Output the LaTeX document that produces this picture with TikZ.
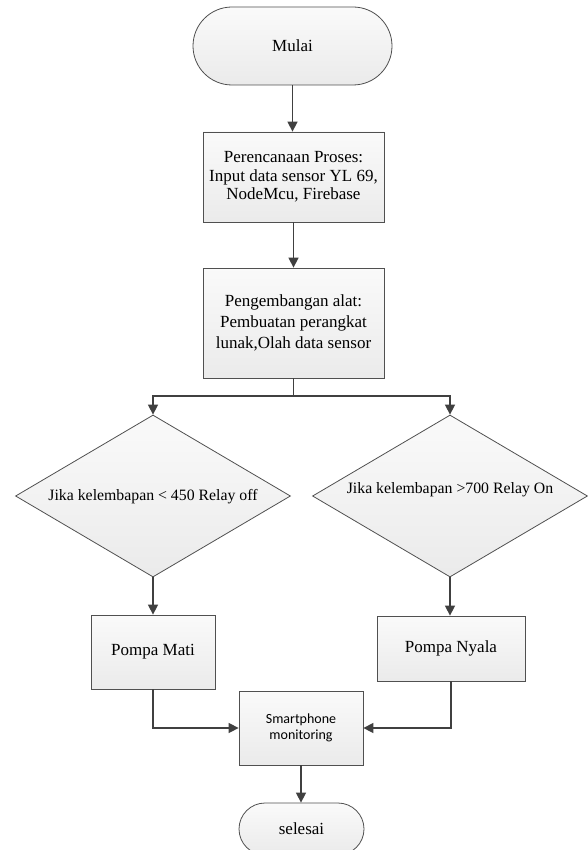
\documentclass[tikz,border=0pt]{standalone}
\usepackage{fontspec}
\setmainfont{Liberation Serif}
\newfontfamily\calibrifont{Carlito}
\usetikzlibrary{shapes.geometric,arrows.meta}
\definecolor{lineC}{RGB}{64,64,64}
\definecolor{edgeC}{RGB}{80,80,80}
\tikzset{
  shp/.style={draw=edgeC, line width=0.8pt, top color=white!96!gray, bottom color=gray!16, inner sep=0pt, align=center, font=\fontsize{17}{18.5}\selectfont},
  term/.style={shp, rectangle, rounded corners=#1},
  procbox/.style={shp, rectangle},
  dia/.style={shp, diamond, aspect=1.7, minimum width=275pt, minimum height=162pt},
  diatext/.style={font=\fontsize{15.8}{18}\selectfont, inner sep=0pt},
  conn/.style={draw=lineC, line width=1.5pt, -{Triangle[length=10pt,width=10pt]}},
  plainconn/.style={draw=lineC, line width=1.5pt},
}
\begin{document}
\begin{tikzpicture}[x=1pt,y=-1pt]
\useasboundingbox (0,0) rectangle (588,850);
\clip (0,0) rectangle (588,850);
\fill[white] (0,0) rectangle (588,850);

\node[term=39pt, minimum width=199pt, minimum height=78pt] (mulai) at (292.5,46) {Mulai};
\node[procbox, minimum width=181pt, minimum height=90pt] (p1) at (293.5,177)
  {Perencanaan Proses:\\Input data sensor YL 69,\\NodeMcu, Firebase};
\node[procbox, minimum width=181pt, minimum height=110pt, font=\fontsize{17}{20.8}\selectfont] (p2) at (293.5,323)
  {Pengembangan alat:\\Pembuatan perangkat\\lunak,Olah data sensor};
\node[dia, label={[diatext, yshift=-1pt]center:Jika kelembapan {\textless} 450 Relay off}] (d1) at (153,496) {};
\node[dia, label={[diatext, yshift=6pt]center:Jika kelembapan {\textgreater}700 Relay On}] (d2) at (450,496) {};
\node[procbox, minimum width=124pt, minimum height=74pt] (pm) at (153,652) {Pompa Mati};
\node[procbox, minimum width=148pt, minimum height=65pt] (pn) at (451,648.5) {Pompa Nyala};
\node[procbox, minimum width=124pt, minimum height=74pt, font=\calibrifont\fontsize{14}{15.7}\selectfont] (sm) at (301,728) {Smartphone\\monitoring};
\node[term=26pt, minimum width=125pt, minimum height=52pt] (sel) at (301.5,829) {selesai};

\coordinate (br) at (293.5,396);

\draw[conn] (mulai.south) -- (mulai.south |- p1.north);
\draw[conn] (p1) -- (p2);
\draw[plainconn] (p2.south) -- (br);
\draw[conn] (br) -| (d1.north);
\draw[conn] (br) -| (d2.north);
\draw[conn] (d1.south) -- (pm.north);
\draw[conn] (d2.south) -- (d2.south |- pn.north);
\draw[conn] (pm.south) |- (sm.west);
\draw[conn] (pn.south) |- (sm.east);
\draw[conn] (sm.south) -- (sm.south |- sel.north);
\end{tikzpicture}
\end{document}
